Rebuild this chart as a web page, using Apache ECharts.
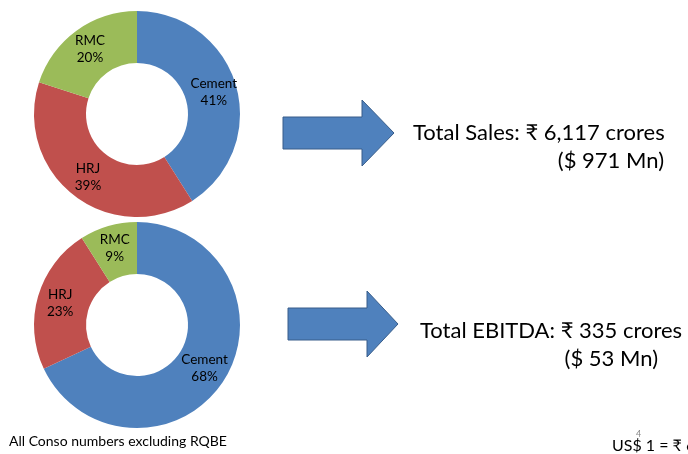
<!DOCTYPE html>
<html>
<head>
<meta charset="utf-8">
<script src="https://cdn.jsdelivr.net/npm/echarts@6/dist/echarts.min.js"></script>
<style>
html, body { margin: 0; padding: 0; background: #fff; }
#chartmain { width: 688px; height: 454px; }
</style>
</head>
<body>
<div id="chartmain"></div>
<script>
var segments = ['Cement', 'HRJ', 'RMC'];
var salesShare = [41, 39, 20];
var ebitdaShare = [68, 23, 9];
var segColors = ['#4F81BD', '#C0504D', '#9BBB59'];

var salesLines = ['Total Sales: \u20B9 6,117 crores', '($ 971 Mn)'];
var ebitdaLines = ['Total EBITDA: \u20B9 335 crores', '($ 53 Mn)'];
var footNote = 'All Conso numbers excluding RQBE';
var fxNote = 'US$ 1 = \u20B9 63';

var font = 'Lato, "Noto Sans", sans-serif';

function toData(vals) {
	return segments.map(function (name, i) {
		return { name: name, value: vals[i], itemStyle: { color: segColors[i] } };
	});
}

function donut(vals, cy) {
	return {
		type : 'pie',
		center : [137, cy],
		radius : [51, 103],
		startAngle : 90,
		clockwise : true,
		silent : true,
		label : {
			position : 'inside',
			formatter : '{b}\n{c}%',
			color : '#000',
			fontSize : 13.5,
			lineHeight : 17,
			fontFamily : font
		},
		labelLine : { show : false },
		data : toData(vals)
	};
}

function arrow(x0, x1, x2, yMid, bodyH, headH) {
	return {
		type : 'polygon',
		shape : {
			points : [
				[x0, yMid - bodyH / 2], [x1, yMid - bodyH / 2], [x1, yMid - headH / 2],
				[x2, yMid], [x1, yMid + headH / 2], [x1, yMid + bodyH / 2], [x0, yMid + bodyH / 2]
			]
		},
		style : { fill : '#4F81BD', stroke : '#385D8A', lineWidth : 1 }
	};
}

function txt(x, y, s, size, align, color) {
	return {
		type : 'text',
		x : x,
		y : y,
		style : {
			text : s,
			fontSize : size,
			fontFamily : font,
			fill : color || '#000',
			align : align || 'left',
			verticalAlign : 'middle'
		}
	};
}

var option = {
	animation : false,
	series : [ donut(salesShare, 114), donut(ebitdaShare, 325) ],
	graphic : [
		arrow(283, 362, 394, 133, 32, 66),
		arrow(288, 367, 398, 324, 32, 66),
		txt(413, 133, salesLines[0], 22),
		txt(664, 161, salesLines[1], 22, 'right'),
		txt(420, 331, ebitdaLines[0], 22),
		txt(658, 359, ebitdaLines[1], 22, 'right'),
		txt(9, 441, footNote, 14),
		txt(612, 446, fxNote, 16),
		txt(636, 434, '4', 9, 'left', '#888')
	]
};

var myChart = echarts.init(document.getElementById('chartmain'));
myChart.setOption(option);
</script>
</body>
</html>
